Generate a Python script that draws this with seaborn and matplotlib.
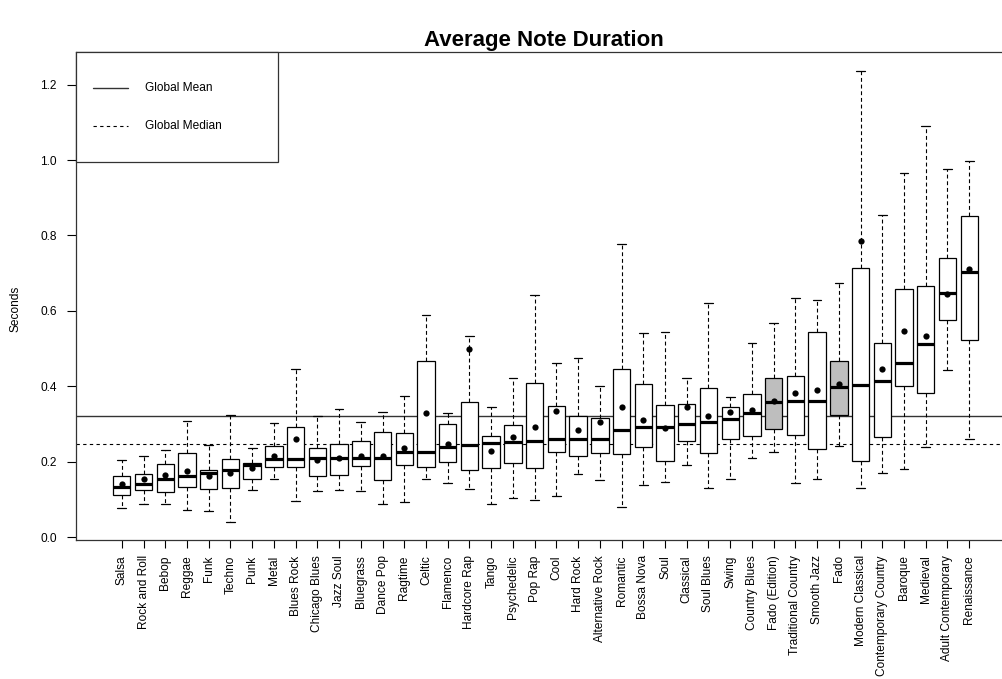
import numpy as np
import pandas as pd
import matplotlib
matplotlib.use("Agg")
import matplotlib.pyplot as plt
from matplotlib.patches import Rectangle
import seaborn as sns

# summary stats per genre (seconds)
genres = ["Salsa", "Rock and Roll", "Bebop", "Reggae", "Funk", "Techno", "Punk",
          "Metal", "Blues Rock", "Chicago Blues", "Jazz Soul", "Bluegrass",
          "Dance Pop", "Ragtime", "Celtic", "Flamenco", "Hardcore Rap", "Tango",
          "Psychedelic", "Pop Rap", "Cool", "Hard Rock", "Alternative Rock",
          "Romantic", "Bossa Nova", "Soul", "Classical", "Soul Blues", "Swing",
          "Country Blues", "Fado (Edition)", "Traditional Country", "Smooth Jazz",
          "Fado", "Modern Classical", "Contemporary Country", "Baroque",
          "Medieval", "Adult Contemporary", "Renaissance"]
whisker_low = [0.078, 0.087, 0.087, 0.073, 0.069, 0.041, 0.125, 0.155, 0.096, 0.122,
               0.125, 0.122, 0.087, 0.094, 0.155, 0.143, 0.128, 0.087, 0.104, 0.099,
               0.108, 0.168, 0.151, 0.081, 0.139, 0.146, 0.190, 0.131, 0.154, 0.211,
               0.225, 0.143, 0.154, 0.241, 0.131, 0.170, 0.180, 0.239, 0.443, 0.260]
q1 = [0.111, 0.126, 0.120, 0.134, 0.128, 0.129, 0.155, 0.185, 0.186, 0.163,
      0.164, 0.188, 0.152, 0.190, 0.187, 0.200, 0.179, 0.182, 0.196, 0.184,
      0.226, 0.215, 0.222, 0.220, 0.239, 0.203, 0.256, 0.224, 0.259, 0.268,
      0.286, 0.271, 0.234, 0.323, 0.202, 0.266, 0.401, 0.382, 0.577, 0.522]
medians = [0.132, 0.140, 0.154, 0.162, 0.169, 0.177, 0.192, 0.207, 0.207, 0.210,
           0.210, 0.210, 0.210, 0.226, 0.226, 0.239, 0.244, 0.250, 0.251, 0.256,
           0.259, 0.261, 0.261, 0.283, 0.291, 0.291, 0.301, 0.305, 0.313, 0.328,
           0.358, 0.360, 0.361, 0.398, 0.404, 0.414, 0.462, 0.512, 0.647, 0.703]
q3 = [0.163, 0.167, 0.193, 0.224, 0.179, 0.208, 0.197, 0.241, 0.293, 0.235,
      0.246, 0.256, 0.279, 0.275, 0.468, 0.300, 0.358, 0.268, 0.298, 0.409,
      0.348, 0.322, 0.317, 0.445, 0.405, 0.349, 0.353, 0.395, 0.346, 0.379,
      0.422, 0.426, 0.544, 0.468, 0.713, 0.516, 0.658, 0.667, 0.741, 0.851]
whisker_high = [0.204, 0.215, 0.232, 0.307, 0.245, 0.325, 0.237, 0.303, 0.445, 0.320,
                0.341, 0.304, 0.331, 0.373, 0.589, 0.328, 0.534, 0.344, 0.422, 0.641,
                0.461, 0.476, 0.401, 0.776, 0.542, 0.544, 0.422, 0.621, 0.372, 0.516,
                0.568, 0.633, 0.630, 0.673, 1.236, 0.853, 0.966, 1.089, 0.977, 0.997]
means = [0.140, 0.154, 0.165, 0.176, 0.163, 0.170, 0.182, 0.216, 0.260, 0.205,
         0.211, 0.214, 0.215, 0.236, 0.328, 0.246, 0.498, 0.228, 0.265, 0.291,
         0.334, 0.283, 0.306, 0.344, 0.310, 0.290, 0.344, 0.320, 0.331, 0.337,
         0.361, 0.381, 0.389, 0.407, 0.784, 0.447, 0.546, 0.534, 0.646, 0.712]
highlighted = ["Fado (Edition)", "Fado"]
global_mean = 0.322
global_median = 0.248

# five summary values per genre -> exact quartiles with linear percentiles
rows = []
for i, g in enumerate(genres):
    for v in (whisker_low[i], q1[i], medians[i], q3[i], whisker_high[i]):
        rows.append({"genre": g, "seconds": v})
df = pd.DataFrame(rows)
mean_df = pd.DataFrame({"genre": genres, "seconds": means})
palette = {g: ("#BEBEBE" if g in highlighted else "white") for g in genres}

sns.set_style("white")
plt.rcParams["font.family"] = ["Liberation Sans", "DejaVu Sans"]
plt.rcParams["text.color"] = "black"
plt.rcParams["axes.labelcolor"] = "black"
plt.rcParams["xtick.color"] = "black"
plt.rcParams["ytick.color"] = "black"

fig = plt.figure(figsize=(10.03, 6.79), dpi=100)
ax = fig.add_axes([0.0755, 0.2047, 0.9335, 0.7187])

sns.boxplot(data=df, x="genre", y="seconds", hue="genre", order=genres,
            hue_order=genres, palette=palette, legend=False, whis=np.inf,
            width=0.8, linecolor="black", linewidth=0.9, showfliers=False,
            medianprops=dict(linewidth=2.3, color="black"),
            whiskerprops=dict(linestyle=(0, (3.5, 2.5)), linewidth=0.8),
            capprops=dict(linewidth=0.9), ax=ax)
sns.stripplot(data=mean_df, x="genre", y="seconds", order=genres, jitter=False,
              color="black", size=4.5, linewidth=0, ax=ax, zorder=5)

ax.axhline(global_mean, color="#333333", lw=1.0, zorder=1)
ax.axhline(global_median, color="black", lw=0.8, ls=(0, (3, 3)), zorder=1)

ax.set_xlim(-2.12, 40.97)
ax.set_ylim(-0.0077, 1.2864)
ax.set_yticks(np.arange(0, 1.21, 0.2))
ax.set_yticklabels([f"{t:.1f}" for t in np.arange(0, 1.21, 0.2)])
ax.tick_params(axis="y", length=6.5, width=0.8, pad=7, labelsize=8.6, left=True)
ax.tick_params(axis="x", length=6, width=0.8, pad=5, labelsize=8.6,
               rotation=90, bottom=True)
ax.set_xlabel("")
ax.set_ylabel("Seconds", fontsize=8.6)
ax.yaxis.set_label_coords(-0.058, 0.474)
ax.set_title("Average Note Duration", fontsize=16, fontweight="bold", pad=4.5)

for side in ["left", "bottom", "top"]:
    ax.spines[side].set_color("#333333")
    ax.spines[side].set_linewidth(0.9)
ax.spines["right"].set_visible(False)

# legend box in the upper left, drawn like the original
ax.add_patch(Rectangle((0, 0.7746), 0.216, 0.2254, transform=ax.transAxes,
                       facecolor="white", edgecolor="#333333", lw=0.9,
                       clip_on=False, zorder=6))
ax.plot([0.0182, 0.0555], [0.9258, 0.9258], transform=ax.transAxes,
        color="#333333", lw=1.0, zorder=7)
ax.plot([0.0182, 0.0555], [0.849, 0.849], transform=ax.transAxes,
        color="black", lw=0.8, ls=(0, (3, 3)), zorder=7)
ax.text(0.0743, 0.9258, "Global Mean", transform=ax.transAxes, fontsize=8.6,
        va="center", zorder=7)
ax.text(0.0743, 0.849, "Global Median", transform=ax.transAxes, fontsize=8.6,
        va="center", zorder=7)

fig.savefig("out.png", dpi=100)
